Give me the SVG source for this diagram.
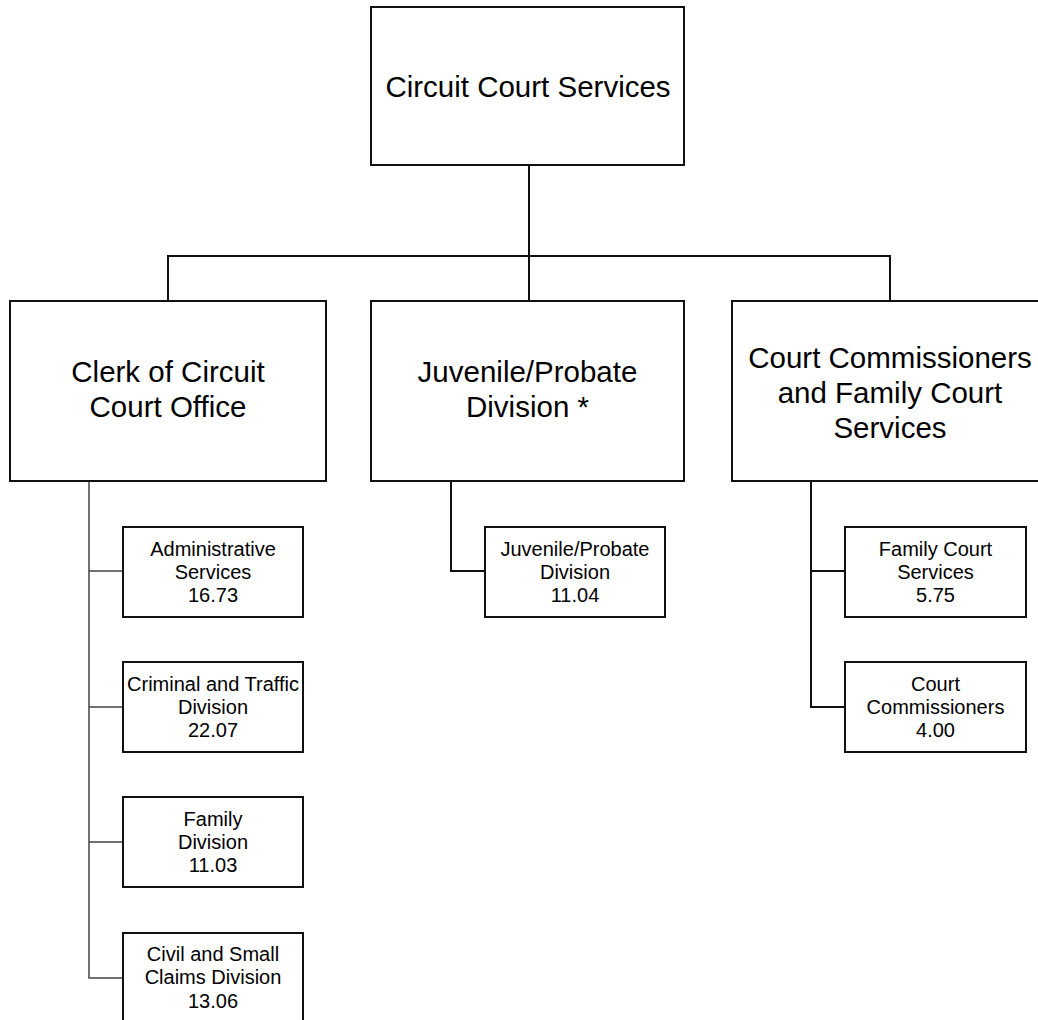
<svg xmlns="http://www.w3.org/2000/svg" width="1038" height="1020" viewBox="0 0 1038 1020">
<style>
.box{fill:#fff;stroke:#111;stroke-width:2}
.big{font-family:"Liberation Sans",Arial,sans-serif;font-size:29.5px;fill:#000;text-anchor:middle}
.sm{font-family:"Liberation Sans",Arial,sans-serif;font-size:20px;fill:#000;text-anchor:middle}
.c{fill:none;stroke:#111;stroke-width:2}
.c2{fill:none;stroke:#444;stroke-width:1.5}
</style>
<rect width="1038" height="1020" fill="#fff"/>
<g id="connectors">
<path class="c" d="M529,165 V256 M168,301 V256 H890 V301 M529,256 V301"/>
<path class="c2" d="M89,481 V978 H123 M89,571 H123 M89,707 H123 M89,842 H123"/>
<path class="c" d="M451,481 V571 H485"/>
<path class="c" d="M811,481 V707 H845 M811,571 H845"/>
</g>
<g id="n-top">
<rect class="box" x="371" y="7" width="313" height="158"/>
<text class="big" x="528" y="97">Circuit Court Services</text>
</g>
<g id="n-clerk">
<rect class="box" x="10" y="301" width="316" height="180"/>
<text class="big" x="168" y="382">Clerk of Circuit</text>
<text class="big" x="168" y="417">Court Office</text>
</g>
<g id="n-juv">
<rect class="box" x="371" y="301" width="313" height="180"/>
<text class="big" x="527.5" y="382">Juvenile/Probate</text>
<text class="big" x="527.5" y="417">Division *</text>
</g>
<g id="n-cc">
<rect class="box" x="732" y="301" width="316" height="180"/>
<text class="big" x="890" y="368">Court Commissioners</text>
<text class="big" x="890" y="403">and Family Court</text>
<text class="big" x="890" y="438">Services</text>
</g>
<g id="n-admin">
<rect class="box" x="123" y="527" width="180" height="90"/>
<text class="sm" x="213" y="555.5">Administrative</text>
<text class="sm" x="213" y="578.8">Services</text>
<text class="sm" x="213" y="602.1">16.73</text>
</g>
<g id="n-crim">
<rect class="box" x="123" y="662" width="180" height="90"/>
<text class="sm" x="213" y="690.5">Criminal and Traffic</text>
<text class="sm" x="213" y="713.8">Division</text>
<text class="sm" x="213" y="737.1">22.07</text>
</g>
<g id="n-fam">
<rect class="box" x="123" y="797" width="180" height="90"/>
<text class="sm" x="213" y="825.5">Family</text>
<text class="sm" x="213" y="848.8">Division</text>
<text class="sm" x="213" y="872.1">11.03</text>
</g>
<g id="n-civil">
<rect class="box" x="123" y="933" width="180" height="90"/>
<text class="sm" x="213" y="961">Civil and Small</text>
<text class="sm" x="213" y="984.3">Claims Division</text>
<text class="sm" x="213" y="1007.6">13.06</text>
</g>
<g id="n-juvsub">
<rect class="box" x="485" y="527" width="180" height="90"/>
<text class="sm" x="575" y="555.5">Juvenile/Probate</text>
<text class="sm" x="575" y="578.8">Division</text>
<text class="sm" x="575" y="602.1">11.04</text>
</g>
<g id="n-fcs">
<rect class="box" x="845" y="527" width="181" height="90"/>
<text class="sm" x="935.5" y="555.5">Family Court</text>
<text class="sm" x="935.5" y="578.8">Services</text>
<text class="sm" x="935.5" y="602.1">5.75</text>
</g>
<g id="n-comm">
<rect class="box" x="845" y="662" width="181" height="90"/>
<text class="sm" x="935.5" y="690.5">Court</text>
<text class="sm" x="935.5" y="713.8">Commissioners</text>
<text class="sm" x="935.5" y="737.1">4.00</text>
</g>
</svg>
